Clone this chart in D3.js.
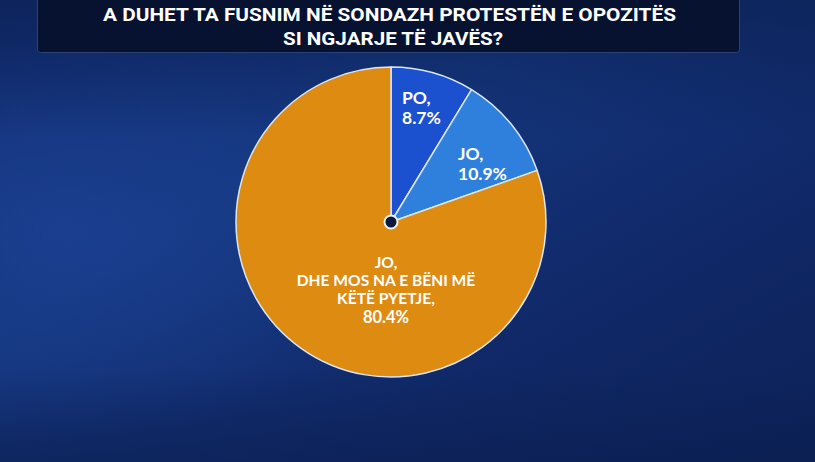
<!DOCTYPE html>
<html>
<head>
<meta charset="utf-8">
<script src="https://cdn.jsdelivr.net/npm/d3@7"></script>
<style>
html,body{margin:0;padding:0;background:#0f2a66;}
svg{display:block;}
</style>
</head>
<body>
<svg id="chart" width="815" height="462"></svg>
<script>
const titleLines = ["A DUHET TA FUSNIM NË SONDAZH PROTESTËN E OPOZITËS", "SI NGJARJE TË JAVËS?"];
const categories = ["PO,", "JO,", "JO,\nDHE MOS NA E BËNI MË\nKËTË PYETJE,"];
const values = [8.7, 10.9, 80.4];
const valueLabels = ["8.7%", "10.9%", "80.4%"];
const colors = ["#1b50cf", "#2f7fdc", "#de8b12"];

const W = 815, H = 462;
const svg = d3.select("#chart");
const defs = svg.append("defs");

// background
const lg = defs.append("linearGradient").attr("id","bg").attr("x1","0").attr("y1","0").attr("x2","1").attr("y2","1");
lg.append("stop").attr("offset","0%").attr("stop-color","#122e74");
lg.append("stop").attr("offset","35%").attr("stop-color","#15377f");
lg.append("stop").attr("offset","70%").attr("stop-color","#102867");
lg.append("stop").attr("offset","100%").attr("stop-color","#0c2258");
svg.append("rect").attr("width",W).attr("height",H).attr("fill","url(#bg)");
const rg = defs.append("radialGradient").attr("id","glow").attr("cx","0.08").attr("cy","0.5").attr("r","0.45");
rg.append("stop").attr("offset","0%").attr("stop-color","#1d4296").attr("stop-opacity",0.7);
rg.append("stop").attr("offset","100%").attr("stop-color","#1d4296").attr("stop-opacity",0);
svg.append("rect").attr("width",W).attr("height",H).attr("fill","url(#glow)");
const tg = defs.append("linearGradient").attr("id","topdark").attr("x1","0").attr("y1","0").attr("x2","0").attr("y2","1");
tg.append("stop").attr("offset","0%").attr("stop-color","#0a1d4d").attr("stop-opacity",0.6);
tg.append("stop").attr("offset","30%").attr("stop-color","#0a1d4d").attr("stop-opacity",0);
tg.append("stop").attr("offset","80%").attr("stop-color","#0a1d4d").attr("stop-opacity",0);
tg.append("stop").attr("offset","100%").attr("stop-color","#0a1d4d").attr("stop-opacity",0.5);
svg.append("rect").attr("width",W).attr("height",H).attr("fill","url(#topdark)");

// title box
svg.append("rect").attr("x",37.5).attr("y",-4).attr("width",702).attr("height",56.5).attr("rx",3)
  .attr("fill","#061230").attr("stroke","#2b4275").attr("stroke-width",1);
const title = svg.append("g").attr("font-family","Roboto, 'Noto Sans', sans-serif")
  .attr("font-weight","bold").attr("fill","#ffffff").attr("text-anchor","middle");
const titleX = [389.5, 393];
const titleY = [21, 45];
const titleWidths = [573, 220];
titleLines.forEach((t,i)=>{
  title.append("text").attr("x",titleX[i]).attr("y",titleY[i]).attr("font-size",18.5)
    .attr("textLength",titleWidths[i]).attr("lengthAdjust","spacingAndGlyphs").text(t);
});

// pie
const cx = 391, cy = 222, R = 155;
const pie = d3.pie().sort(null).value(d=>d)(values);
const arc = d3.arc().innerRadius(0).outerRadius(R);
const g = svg.append("g").attr("transform",`translate(${cx},${cy})`);
g.selectAll("path").data(pie).join("path")
  .attr("d",arc).attr("fill",(d,i)=>colors[i])
  .attr("stroke","#d9e6f5").attr("stroke-width",1.5).attr("stroke-linejoin","round");

// labels
const lab = svg.append("g").attr("font-family","Lato, 'Noto Sans', sans-serif")
  .attr("font-weight","bold").attr("fill","#ffffff");
// small slices: left-aligned two-line labels
const smallPos = [[cx+11, cy-118],[cx+67, cy-62]];
[0,1].forEach(i=>{
  const t = lab.append("text").attr("x",smallPos[i][0]).attr("y",smallPos[i][1]).attr("font-size",17.5);
  t.append("tspan").attr("x",smallPos[i][0]).attr("dy",0).text(categories[i]);
  t.append("tspan").attr("x",smallPos[i][0]).attr("dy",20).text(valueLabels[i]);
});
// big slice
const bigLines = categories[2].split("\n").concat([valueLabels[2]]);
const bx = cx - 5;
const bt = lab.append("text").attr("text-anchor","middle").attr("x",bx).attr("y",cy+46);
const dys = [0, 18, 18, 19];
bigLines.forEach((l,i)=>{
  bt.append("tspan").attr("x",bx).attr("dy",dys[i]).attr("font-size", i===3?16.5:15.6).text(l);
});

// center dot
svg.append("circle").attr("cx",cx).attr("cy",cy).attr("r",6.5)
  .attr("fill","#0b1a3c").attr("stroke","#f2f2f2").attr("stroke-width",2);
</script>
</body>
</html>
